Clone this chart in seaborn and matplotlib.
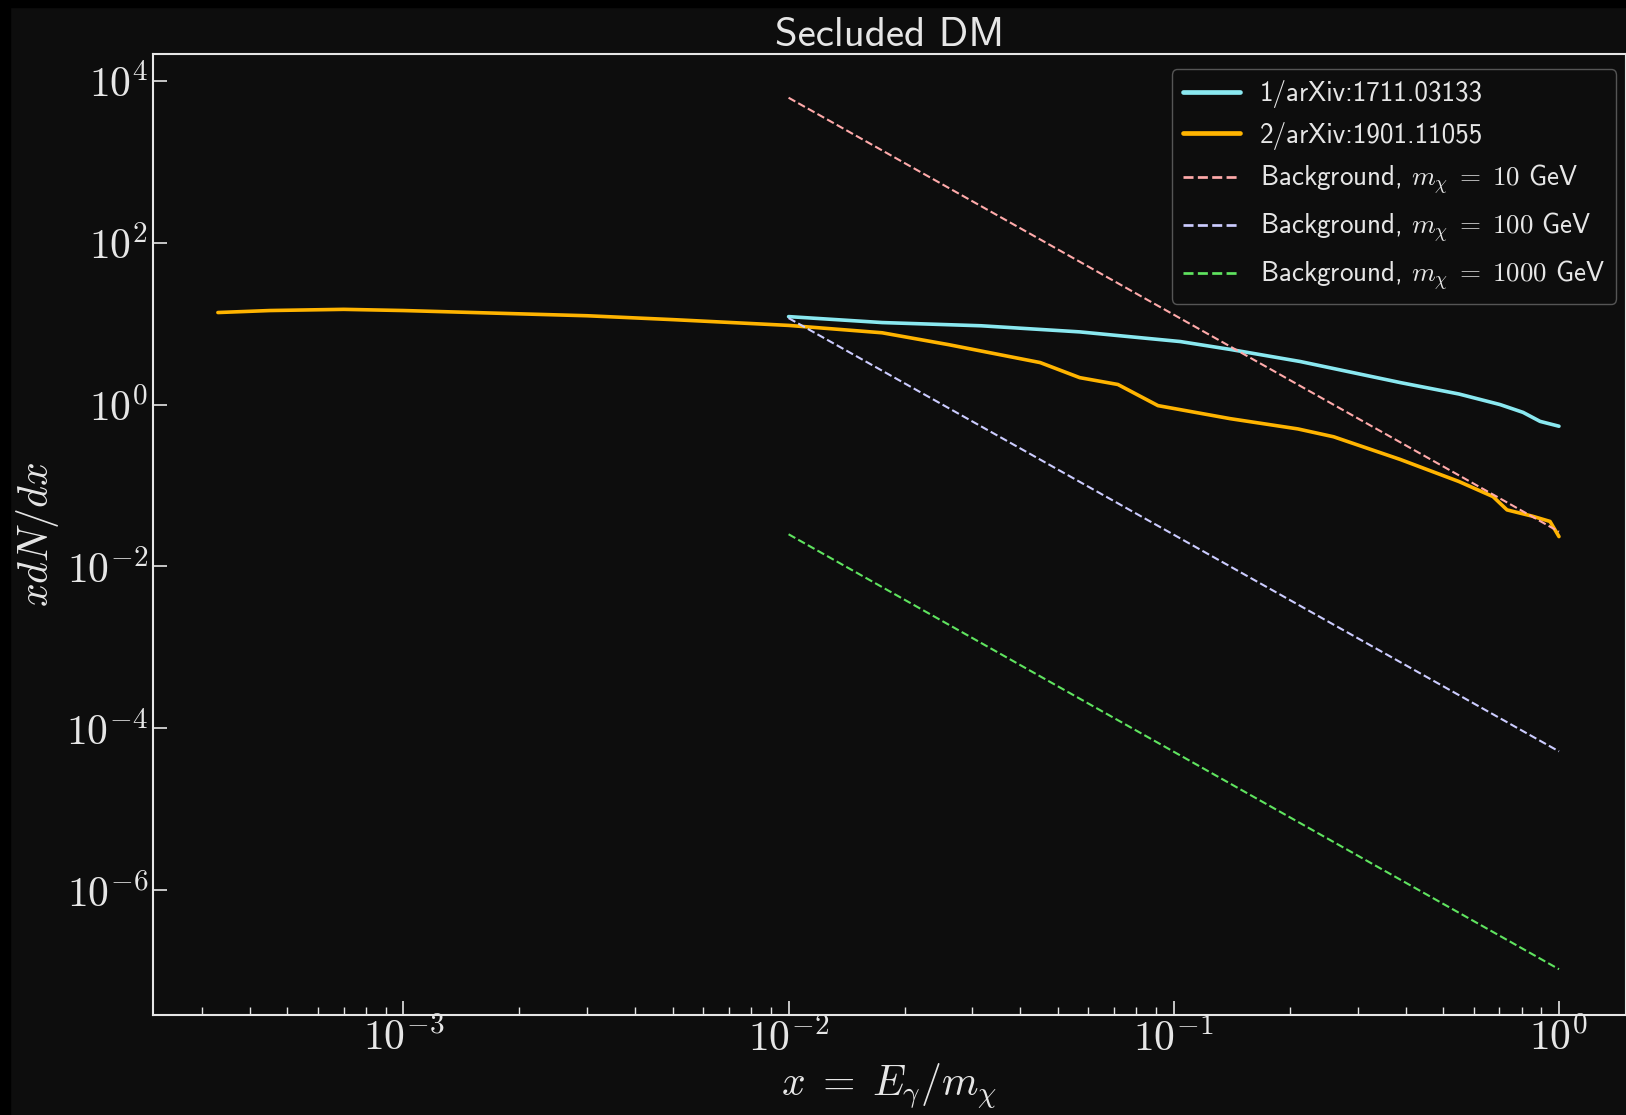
import numpy as np
import pandas as pd
import matplotlib
matplotlib.use("Agg")
import matplotlib.pyplot as plt
import seaborn as sns
from matplotlib.ticker import FuncFormatter, LogLocator, NullLocator
from matplotlib.patches import Rectangle

# spectre 1 : arXiv:1711.03133
x_ref1 = [0.01, 0.0175, 0.0316, 0.057, 0.104, 0.14, 0.213, 0.387, 0.55, 0.703, 0.807, 0.893, 1.0]
y_ref1 = [12.2, 10.3, 9.4, 7.9, 6.0, 4.8, 3.4, 1.87, 1.35, 1.0, 0.80, 0.62, 0.54]

# spectre 2 : arXiv:1901.11055
x_ref2 = [3.3e-4, 4.5e-4, 7e-4, 1.0e-3, 2e-3, 3e-3, 5e-3, 0.01, 0.0175, 0.026, 0.045,
          0.057, 0.0716, 0.091, 0.14, 0.21, 0.26, 0.387, 0.55, 0.674, 0.733, 0.85, 0.948, 1.0]
y_ref2 = [13.7, 14.5, 15.0, 14.5, 13.2, 12.5, 11.2, 9.5, 7.7, 5.5, 3.3,
          2.15, 1.77, 0.97, 0.67, 0.50, 0.40, 0.21, 0.112, 0.073, 0.050, 0.042, 0.036, 0.0234]

# fonds (droites en log-log)
x_bg = [0.01, 1.0]
y_bg10 = [6166.0, 0.0269]
y_bg100 = [11.7, 5.2e-5]
y_bg1000 = [0.025, 1.06e-7]

labels = ["1/arXiv:1711.03133", "2/arXiv:1901.11055",
          r"Background, $m_\chi\;=\;\mathrm{10}$ GeV",
          r"Background, $m_\chi\;=\;\mathrm{100}$ GeV",
          r"Background, $m_\chi\;=\;\mathrm{1000}$ GeV"]

bg = "#0d0d0d"
fg = "#e6e6e6"

sns.set_style("dark", rc={"axes.facecolor": bg, "figure.facecolor": bg})
plt.rcParams["mathtext.fontset"] = "cm"
plt.rcParams["font.family"] = ["cmss10", "DejaVu Sans"]
plt.rcParams["axes.unicode_minus"] = False

fig = plt.figure(figsize=(16.26, 11.15), dpi=100)
ax = fig.add_axes([153 / 1626, 1 - 1015 / 1115, 1 - 153 / 1626, (1015 - 54) / 1115])
ax.set_facecolor(bg)
ax.set(xscale="log", yscale="log")

sns.lineplot(x=x_ref1, y=y_ref1, ax=ax, color="#8ae8f0", lw=2.6, label=labels[0])
sns.lineplot(x=x_ref2, y=y_ref2, ax=ax, color="#ffb400", lw=2.6, label=labels[1])
sns.lineplot(x=x_bg, y=y_bg10, ax=ax, color="#ffaaaa", lw=1.5, ls="--", label=labels[2])
sns.lineplot(x=x_bg, y=y_bg100, ax=ax, color="#ccccff", lw=1.5, ls="--", label=labels[3])
sns.lineplot(x=x_bg, y=y_bg1000, ax=ax, color="#5fe35f", lw=1.5, ls="--", label=labels[4])

ax.set_xlim(10 ** -3.65, 10 ** 0.174)
ax.set_ylim(10 ** -7.54, 10 ** 4.33)
ax.set_yticks([1e-6, 1e-4, 1e-2, 1, 1e2, 1e4])
ax.yaxis.set_minor_locator(NullLocator())
ax.xaxis.set_major_locator(LogLocator(base=10, numticks=10))
ax.xaxis.set_minor_locator(LogLocator(base=10, subs=np.arange(2, 10), numticks=20))

fmt = FuncFormatter(lambda v, p: r"$\mathrm{10^{%d}}$" % int(round(np.log10(v))))
ax.xaxis.set_major_formatter(fmt)
ax.yaxis.set_major_formatter(fmt)

ax.tick_params(axis="both", which="major", direction="in", length=10, width=1.2,
               colors=fg, labelsize=30, bottom=True, left=True, top=False, right=False)
ax.tick_params(axis="x", which="minor", direction="in", length=6, width=1.0, colors=fg, bottom=True)
ax.tick_params(axis="x", which="major", pad=2)

for s in ["left", "top", "bottom", "right"]:
    ax.spines[s].set_color(fg)
    ax.spines[s].set_linewidth(1.5)

ax.set_xlabel(r"$x\;=\;E_\gamma/m_\chi$", fontsize=30, color=fg, labelpad=2)
ax.set_ylabel(r"$xdN/dx$", fontsize=30, color=fg, labelpad=4)
ax.set_title("Secluded DM", fontsize=29.5, color=fg, pad=6)

leg = ax.legend(loc="upper right", bbox_to_anchor=(0.9932, 0.9839), borderaxespad=0,
                fontsize=19.5, facecolor=bg, edgecolor="#555555",
                framealpha=1.0, handlelength=2.1, handletextpad=0.75, labelspacing=0.5)
for t in leg.get_texts():
    t.set_color(fg)
for h in leg.get_lines():
    h.set_linewidth(h.get_linewidth() * 1.3)

# bords noirs de la capture
fig.patches.append(Rectangle((0, 0), 10 / 1626, 1, transform=fig.transFigure, color="black", zorder=-1))
fig.patches.append(Rectangle((0, 1 - 7 / 1115), 1, 7 / 1115, transform=fig.transFigure, color="black", zorder=-1))

fig.savefig("out.png", dpi=100, facecolor=bg)
